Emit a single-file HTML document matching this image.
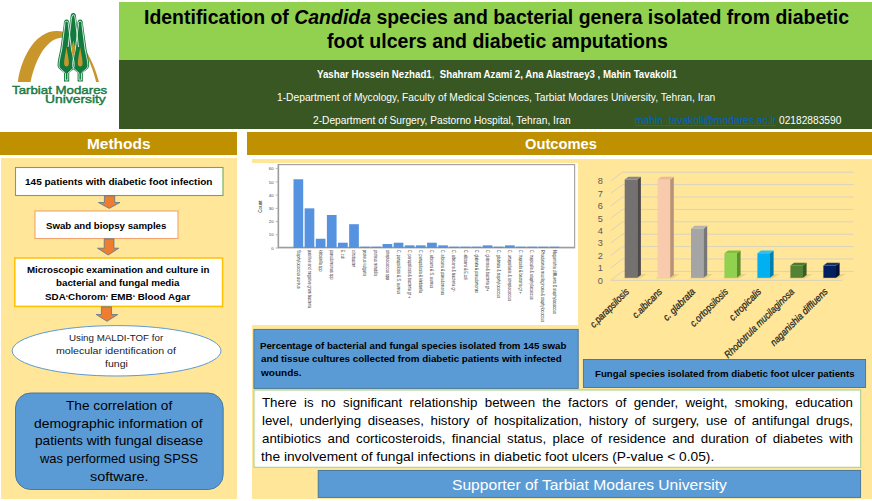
<!DOCTYPE html>
<html><head><meta charset="utf-8">
<style>
*{margin:0;padding:0;box-sizing:border-box}
html,body{width:872px;height:501px;overflow:hidden;background:#fff}
body{position:relative;font-family:"Liberation Sans",sans-serif}
.a{position:absolute}
.tx{position:absolute;white-space:nowrap;transform-origin:0 0}
svg{position:absolute;left:0;top:0}
</style></head><body>
<div class="a" style="left:119px;top:2px;width:753px;height:58px;background:#92d050"></div>
<div class="a" style="left:119px;top:60px;width:753px;height:69px;background:#385723"></div>
<div class="a" style="left:0;top:132px;width:237px;height:23px;background:#bf9000"></div>
<div class="a" style="left:247px;top:132px;width:625px;height:23px;background:#bf9000"></div>
<div class="a" style="left:1px;top:158px;width:236px;height:340.5px;background:#ffe699"></div>
<div class="a" style="left:252px;top:159px;width:620px;height:339.5px;background:#ffe699"></div>
<svg width="872" height="501" viewBox="0 0 872 501" font-family="Liberation Sans, sans-serif">
<path d="M17.8,82 C20.5,62 33,31 57,31 C77,31 92,55 99,82 L96.2,82 C90.5,58 79,37.8 62,37.8 C47.5,37.8 35.5,58 30.6,82 Z" fill="#c9962b"/>
<path d="M73.3,13.0 C75.2,13.0 76.2,14.6 76.2,18.4 L79.7,43.4 C81.5,51.4 82.3,55.4 82.3,59.0 C82.3,61.9 78.49999999999999,63.9 75.89999999999999,66.2 L75.89999999999999,66 L70.7,66 L70.7,66.2 C68.10000000000001,63.9 64.3,61.9 64.3,59.0 C64.3,55.4 65.1,51.4 66.89999999999999,43.4 L70.39999999999999,18.4 C70.39999999999999,14.6 71.39999999999999,13.0 73.3,13.0 Z" fill="#137a3e"/>
<path d="M66.6,19.6 C68.5,19.6 69.5,21.200000000000003 69.5,25.0 L73.0,50.0 C74.8,58.0 75.6,62.0 75.6,65.6 C75.6,68.5 71.79999999999998,70.5 69.19999999999999,72.80000000000001 L69.19999999999999,81.5 L63.99999999999999,81.5 L63.99999999999999,72.80000000000001 C61.39999999999999,70.5 57.599999999999994,68.5 57.599999999999994,65.6 C57.599999999999994,62.0 58.39999999999999,58.0 60.199999999999996,50.0 L63.699999999999996,25.0 C63.699999999999996,21.200000000000003 64.69999999999999,19.6 66.6,19.6 Z" fill="#137a3e"/>
<path d="M80.2,19.6 C82.10000000000001,19.6 83.10000000000001,21.200000000000003 83.10000000000001,25.0 L86.60000000000001,50.0 C88.4,58.0 89.2,62.0 89.2,65.6 C89.2,68.5 85.39999999999999,70.5 82.8,72.80000000000001 L82.8,81.5 L77.60000000000001,81.5 L77.60000000000001,72.80000000000001 C75.00000000000001,70.5 71.2,68.5 71.2,65.6 C71.2,62.0 72.0,58.0 73.8,50.0 L77.3,25.0 C77.3,21.200000000000003 78.3,19.6 80.2,19.6 Z" fill="#137a3e"/>
<path d="M68.1,47.0 L71.3,19.4 C71.7,17.18 72.1,14.68 73.3,14.68 C74.5,14.68 74.89999999999999,17.18 75.3,19.4 L78.5,47.0" fill="none" stroke="#f2faf4" stroke-width="0.85"/>
<path d="M66.6,21.28 C68.5,21.28 68.38,22.880000000000003 68.38,25.0 L71.6,50.0 C73.39999999999999,58.0 74.19999999999999,62.0 74.19999999999999,65.6 C74.19999999999999,68.5 70.39999999999999,70.5 67.8,73.22000000000001 L67.8,80.1 L65.39999999999999,80.1 L65.39999999999999,73.22000000000001 C62.79999999999999,70.5 58.99999999999999,68.5 58.99999999999999,65.6 C58.99999999999999,62.0 59.79999999999999,58.0 61.599999999999994,50.0 L64.82,25.0 C64.82,22.880000000000003 64.69999999999999,21.28 66.6,21.28 Z" fill="none" stroke="#f2faf4" stroke-width="0.85"/>
<path d="M80.2,21.28 C82.10000000000001,21.28 81.98,22.880000000000003 81.98,25.0 L85.2,50.0 C87.0,58.0 87.8,62.0 87.8,65.6 C87.8,68.5 84.0,70.5 81.4,73.22000000000001 L81.4,80.1 L79.0,80.1 L79.0,73.22000000000001 C76.4,70.5 72.60000000000001,68.5 72.60000000000001,65.6 C72.60000000000001,62.0 73.4,58.0 75.2,50.0 L78.42,25.0 C78.42,22.880000000000003 78.3,21.28 80.2,21.28 Z" fill="none" stroke="#f2faf4" stroke-width="0.85"/>
<path d="M73.4,40.5 C74.6,44 75.2,48 74.9,51 C74.6,54 73.9,56 73.4,58 C72.9,56 72.2,54 71.9,51 C71.6,48 72.2,44 73.4,40.5 Z" fill="#c9962b"/>
<path d="M66.5,47.2 C67.3,53.2 68.9,58.400000000000006 68.9,63.400000000000006 C68.9,65.4 67.7,66.4 66.5,66.4 C65.3,66.4 64.1,65.4 64.1,63.400000000000006 C64.1,58.400000000000006 65.7,53.2 66.5,47.2 Z" fill="#c9962b"/>
<path d="M80.2,47.2 C81.0,53.2 82.60000000000001,58.400000000000006 82.60000000000001,63.400000000000006 C82.60000000000001,65.4 81.4,66.4 80.2,66.4 C79.0,66.4 77.8,65.4 77.8,63.400000000000006 C77.8,58.400000000000006 79.4,53.2 80.2,47.2 Z" fill="#c9962b"/>
<rect x="252" y="163" width="326" height="162" fill="#fff"/>
<rect x="278.4" y="164.6" width="296.2" height="83" fill="none" stroke="#a6a6a6" stroke-width="1.2"/>
<path d="M278.4,164 V247.6 H575" fill="none" stroke="#9c9c9c" stroke-width="1.5"/>
<line x1="275.6" y1="248.00" x2="278.4" y2="248.00" stroke="#aaa" stroke-width="0.8"/>
<text x="273.6" y="249.60" font-size="4.3" text-anchor="end" fill="#444">0</text>
<line x1="275.6" y1="234.78" x2="278.4" y2="234.78" stroke="#aaa" stroke-width="0.8"/>
<text x="273.6" y="236.38" font-size="4.3" text-anchor="end" fill="#444">10</text>
<line x1="275.6" y1="221.57" x2="278.4" y2="221.57" stroke="#aaa" stroke-width="0.8"/>
<text x="273.6" y="223.17" font-size="4.3" text-anchor="end" fill="#444">20</text>
<line x1="275.6" y1="208.35" x2="278.4" y2="208.35" stroke="#aaa" stroke-width="0.8"/>
<text x="273.6" y="209.95" font-size="4.3" text-anchor="end" fill="#444">30</text>
<line x1="275.6" y1="195.13" x2="278.4" y2="195.13" stroke="#aaa" stroke-width="0.8"/>
<text x="273.6" y="196.73" font-size="4.3" text-anchor="end" fill="#444">40</text>
<line x1="275.6" y1="181.91" x2="278.4" y2="181.91" stroke="#aaa" stroke-width="0.8"/>
<text x="273.6" y="183.51" font-size="4.3" text-anchor="end" fill="#444">50</text>
<line x1="275.6" y1="168.70" x2="278.4" y2="168.70" stroke="#aaa" stroke-width="0.8"/>
<text x="273.6" y="170.30" font-size="4.3" text-anchor="end" fill="#444">60</text>
<text transform="translate(262.3,206.6) rotate(-90)" font-size="5.4" text-anchor="middle" fill="#222" textLength="12.3" lengthAdjust="spacingAndGlyphs">Count</text>
<rect x="293.50" y="179.27" width="9.7" height="68.73" fill="#5592e0"/>
<text transform="translate(296.55,250) rotate(90)" font-size="4.6" fill="#333" textLength="38.5" lengthAdjust="spacingAndGlyphs">Staphylococcus aureus</text>
<rect x="304.63" y="208.35" width="9.7" height="39.65" fill="#5592e0"/>
<text transform="translate(307.68,250) rotate(90)" font-size="4.6" fill="#333" textLength="58.0" lengthAdjust="spacingAndGlyphs">positive and negative gram bacteria</text>
<rect x="315.76" y="238.75" width="9.7" height="9.25" fill="#5592e0"/>
<text transform="translate(318.81,250) rotate(90)" font-size="4.6" fill="#333" textLength="21.4" lengthAdjust="spacingAndGlyphs">klebsiella spp</text>
<rect x="326.89" y="214.96" width="9.7" height="33.04" fill="#5592e0"/>
<text transform="translate(329.94,250) rotate(90)" font-size="4.6" fill="#333" textLength="29.5" lengthAdjust="spacingAndGlyphs">pseudomonas spp</text>
<rect x="338.02" y="242.71" width="9.7" height="5.29" fill="#5592e0"/>
<text transform="translate(341.07,250) rotate(90)" font-size="4.6" fill="#333" textLength="9.0" lengthAdjust="spacingAndGlyphs">E. coli</text>
<rect x="349.15" y="224.21" width="9.7" height="23.79" fill="#5592e0"/>
<text transform="translate(352.20,250) rotate(90)" font-size="4.6" fill="#333" textLength="17.0" lengthAdjust="spacingAndGlyphs">citrobacter</text>
<rect x="360.28" y="246.68" width="9.7" height="1.32" fill="#5592e0"/>
<text transform="translate(363.33,250) rotate(90)" font-size="4.6" fill="#333" textLength="26.0" lengthAdjust="spacingAndGlyphs">proteus vulgaris</text>
<rect x="371.41" y="246.68" width="9.7" height="1.32" fill="#5592e0"/>
<text transform="translate(374.46,250) rotate(90)" font-size="4.6" fill="#333" textLength="26.0" lengthAdjust="spacingAndGlyphs">proteus mirabilis</text>
<rect x="382.54" y="244.03" width="9.7" height="3.97" fill="#5592e0"/>
<text transform="translate(385.59,250) rotate(90)" font-size="4.6" fill="#333" textLength="30.0" lengthAdjust="spacingAndGlyphs">streptococcus spp</text>
<rect x="393.67" y="242.71" width="9.7" height="5.29" fill="#5592e0"/>
<text transform="translate(396.72,250) rotate(90)" font-size="4.6" fill="#333" textLength="44.0" lengthAdjust="spacingAndGlyphs">C. parapsilosis &amp; S. aureus</text>
<rect x="404.80" y="245.36" width="9.7" height="2.64" fill="#5592e0"/>
<text transform="translate(407.85,250) rotate(90)" font-size="4.6" fill="#333" textLength="48.0" lengthAdjust="spacingAndGlyphs">C. parapsilosis &amp; bacteria gr +</text>
<rect x="415.93" y="245.36" width="9.7" height="2.64" fill="#5592e0"/>
<text transform="translate(418.98,250) rotate(90)" font-size="4.6" fill="#333" textLength="43.0" lengthAdjust="spacingAndGlyphs">C. parapsilosis &amp; klebsiella</text>
<rect x="427.06" y="242.71" width="9.7" height="5.29" fill="#5592e0"/>
<text transform="translate(430.11,250) rotate(90)" font-size="4.6" fill="#333" textLength="38.0" lengthAdjust="spacingAndGlyphs">C. albicans &amp; S. aureus</text>
<rect x="438.19" y="245.36" width="9.7" height="2.64" fill="#5592e0"/>
<text transform="translate(441.24,250) rotate(90)" font-size="4.6" fill="#333" textLength="45.0" lengthAdjust="spacingAndGlyphs">C. albicans &amp; pseudomonas</text>
<rect x="449.32" y="246.68" width="9.7" height="1.32" fill="#5592e0"/>
<text transform="translate(452.37,250) rotate(90)" font-size="4.6" fill="#333" textLength="42.0" lengthAdjust="spacingAndGlyphs">C. albicans &amp; bacteria gr-</text>
<rect x="460.45" y="246.68" width="9.7" height="1.32" fill="#5592e0"/>
<text transform="translate(463.50,250) rotate(90)" font-size="4.6" fill="#333" textLength="30.0" lengthAdjust="spacingAndGlyphs">C. albicans &amp; E.coli</text>
<rect x="471.58" y="246.68" width="9.7" height="1.32" fill="#5592e0"/>
<text transform="translate(474.63,250) rotate(90)" font-size="4.6" fill="#333" textLength="43.0" lengthAdjust="spacingAndGlyphs">C. glabrata &amp; pseudomonas</text>
<rect x="482.71" y="245.36" width="9.7" height="2.64" fill="#5592e0"/>
<text transform="translate(485.76,250) rotate(90)" font-size="4.6" fill="#333" textLength="41.0" lengthAdjust="spacingAndGlyphs">C. glabrata &amp; bacteria gr+</text>
<rect x="493.84" y="246.68" width="9.7" height="1.32" fill="#5592e0"/>
<text transform="translate(496.89,250) rotate(90)" font-size="4.6" fill="#333" textLength="48.0" lengthAdjust="spacingAndGlyphs">C. glabrata &amp; staphylococcus</text>
<rect x="504.97" y="245.36" width="9.7" height="2.64" fill="#5592e0"/>
<text transform="translate(508.02,250) rotate(90)" font-size="4.6" fill="#333" textLength="51.0" lengthAdjust="spacingAndGlyphs">C. ortopsilosis &amp; streptococcus</text>
<rect x="516.10" y="246.68" width="9.7" height="1.32" fill="#5592e0"/>
<text transform="translate(519.15,250) rotate(90)" font-size="4.6" fill="#333" textLength="44.0" lengthAdjust="spacingAndGlyphs">C. tropicalis &amp; bacteria gr +</text>
<rect x="527.23" y="246.68" width="9.7" height="1.32" fill="#5592e0"/>
<text transform="translate(530.28,250) rotate(90)" font-size="4.6" fill="#333" textLength="49.6" lengthAdjust="spacingAndGlyphs">C. tropicalis &amp; staphylococcus</text>
<rect x="538.36" y="246.68" width="9.7" height="1.32" fill="#5592e0"/>
<text transform="translate(541.41,250) rotate(90)" font-size="4.6" fill="#333" textLength="72.0" lengthAdjust="spacingAndGlyphs">Rhodotorula mucilaginosa &amp; staphylococcus</text>
<rect x="549.49" y="246.68" width="9.7" height="1.32" fill="#5592e0"/>
<text transform="translate(552.54,250) rotate(90)" font-size="4.6" fill="#333" textLength="64.0" lengthAdjust="spacingAndGlyphs">Naganishia diffluens &amp; staphylococcus</text>
<path d="M610.9,280.20 L622.5,271.40 H853.6" fill="none" stroke="#d8d3c0" stroke-width="1"/>
<text x="600.2" y="283.60" font-size="9.2" text-anchor="middle" fill="#595959">0</text>
<path d="M610.9,267.80 L622.5,259.00 H853.6" fill="none" stroke="#d8d3c0" stroke-width="1"/>
<text x="600.2" y="271.20" font-size="9.2" text-anchor="middle" fill="#595959">1</text>
<path d="M610.9,255.40 L622.5,246.60 H853.6" fill="none" stroke="#d8d3c0" stroke-width="1"/>
<text x="600.2" y="258.80" font-size="9.2" text-anchor="middle" fill="#595959">2</text>
<path d="M610.9,243.00 L622.5,234.20 H853.6" fill="none" stroke="#d8d3c0" stroke-width="1"/>
<text x="600.2" y="246.40" font-size="9.2" text-anchor="middle" fill="#595959">3</text>
<path d="M610.9,230.60 L622.5,221.80 H853.6" fill="none" stroke="#d8d3c0" stroke-width="1"/>
<text x="600.2" y="234.00" font-size="9.2" text-anchor="middle" fill="#595959">4</text>
<path d="M610.9,218.20 L622.5,209.40 H853.6" fill="none" stroke="#d8d3c0" stroke-width="1"/>
<text x="600.2" y="221.60" font-size="9.2" text-anchor="middle" fill="#595959">5</text>
<path d="M610.9,205.80 L622.5,197.00 H853.6" fill="none" stroke="#d8d3c0" stroke-width="1"/>
<text x="600.2" y="209.20" font-size="9.2" text-anchor="middle" fill="#595959">6</text>
<path d="M610.9,193.40 L622.5,184.60 H853.6" fill="none" stroke="#d8d3c0" stroke-width="1"/>
<text x="600.2" y="196.80" font-size="9.2" text-anchor="middle" fill="#595959">7</text>
<path d="M610.9,181.00 L622.5,172.20 H853.6" fill="none" stroke="#d8d3c0" stroke-width="1"/>
<text x="600.2" y="184.40" font-size="9.2" text-anchor="middle" fill="#595959">8</text>
<path d="M610.9,280.3 H842.4" fill="none" stroke="#d8d3c0" stroke-width="1"/>
<path d="M622.70,278.40 L639.30,278.40 L646.90,274.00 L630.30,274.00 Z" fill="#e2c77a" opacity="0.7"/>
<rect x="624.70" y="179.48" width="12.6" height="98.32" fill="#767171"/>
<path d="M637.30,179.48 L640.90,176.68 L640.90,275.00 L637.30,277.80 Z" fill="#4e4a4a"/>
<path d="M624.70,179.48 L628.30,176.68 L640.90,176.68 L637.30,179.48 Z" fill="#8c8787"/>
<path d="M655.60,278.40 L672.20,278.40 L679.80,274.00 L663.20,274.00 Z" fill="#e2c77a" opacity="0.7"/>
<rect x="657.60" y="179.48" width="12.6" height="98.32" fill="#f8cbad"/>
<path d="M670.20,179.48 L673.80,176.68 L673.80,275.00 L670.20,277.80 Z" fill="#b8927a"/>
<path d="M657.60,179.48 L661.20,176.68 L673.80,176.68 L670.20,179.48 Z" fill="#e9b99a"/>
<path d="M689.00,278.40 L705.60,278.40 L713.20,274.00 L696.60,274.00 Z" fill="#e2c77a" opacity="0.7"/>
<rect x="691.00" y="228.64" width="12.6" height="49.16" fill="#a5a5a5"/>
<path d="M703.60,228.64 L707.20,225.84 L707.20,275.00 L703.60,277.80 Z" fill="#777"/>
<path d="M691.00,228.64 L694.60,225.84 L707.20,225.84 L703.60,228.64 Z" fill="#b5b5b5"/>
<path d="M722.40,278.40 L739.00,278.40 L746.60,274.00 L730.00,274.00 Z" fill="#e2c77a" opacity="0.7"/>
<rect x="724.40" y="253.22" width="12.6" height="24.58" fill="#92d050"/>
<path d="M737.00,253.22 L740.60,250.42 L740.60,275.00 L737.00,277.80 Z" fill="#5f8f30"/>
<path d="M724.40,253.22 L728.00,250.42 L740.60,250.42 L737.00,253.22 Z" fill="#7fbf40"/>
<path d="M755.40,278.40 L772.00,278.40 L779.60,274.00 L763.00,274.00 Z" fill="#e2c77a" opacity="0.7"/>
<rect x="757.40" y="253.22" width="12.6" height="24.58" fill="#00b0f0"/>
<path d="M770.00,253.22 L773.60,250.42 L773.60,275.00 L770.00,277.80 Z" fill="#0080b0"/>
<path d="M757.40,253.22 L761.00,250.42 L773.60,250.42 L770.00,253.22 Z" fill="#30bff0"/>
<path d="M788.40,278.40 L805.00,278.40 L812.60,274.00 L796.00,274.00 Z" fill="#e2c77a" opacity="0.7"/>
<rect x="790.40" y="265.51" width="12.6" height="12.29" fill="#548235"/>
<path d="M803.00,265.51 L806.60,262.71 L806.60,275.00 L803.00,277.80 Z" fill="#3a5c24"/>
<path d="M790.40,265.51 L794.00,262.71 L806.60,262.71 L803.00,265.51 Z" fill="#4a7a2c"/>
<path d="M821.40,278.40 L838.00,278.40 L845.60,274.00 L829.00,274.00 Z" fill="#e2c77a" opacity="0.7"/>
<rect x="823.40" y="265.51" width="12.6" height="12.29" fill="#002060"/>
<path d="M836.00,265.51 L839.60,262.71 L839.60,275.00 L836.00,277.80 Z" fill="#00123a"/>
<path d="M823.40,265.51 L827.00,262.71 L839.60,262.71 L836.00,265.51 Z" fill="#1a3270"/>
<text id="fl0" transform="translate(629.80,292.30) rotate(-45)" font-size="10" font-style="italic" text-anchor="end" fill="#1e1e1e" stroke="#1e1e1e" stroke-width="0.25" textLength="50.7" lengthAdjust="spacingAndGlyphs">c.parapsilosis</text>
<text id="fl1" transform="translate(662.80,292.30) rotate(-45)" font-size="10" font-style="italic" text-anchor="end" fill="#1e1e1e" stroke="#1e1e1e" stroke-width="0.25" textLength="37.5" lengthAdjust="spacingAndGlyphs">c.albicans</text>
<text id="fl2" transform="translate(695.80,292.30) rotate(-45)" font-size="10" font-style="italic" text-anchor="end" fill="#1e1e1e" stroke="#1e1e1e" stroke-width="0.25" textLength="40.8" lengthAdjust="spacingAndGlyphs">c. glabrata</text>
<text id="fl3" transform="translate(728.80,292.30) rotate(-45)" font-size="10" font-style="italic" text-anchor="end" fill="#1e1e1e" stroke="#1e1e1e" stroke-width="0.25" textLength="49.3" lengthAdjust="spacingAndGlyphs">c.ortopsilosis</text>
<text id="fl4" transform="translate(761.80,292.30) rotate(-45)" font-size="10" font-style="italic" text-anchor="end" fill="#1e1e1e" stroke="#1e1e1e" stroke-width="0.25" textLength="40.8" lengthAdjust="spacingAndGlyphs">c.tropicalis</text>
<text id="fl5" transform="translate(794.80,292.30) rotate(-45)" font-size="10" font-style="italic" text-anchor="end" fill="#1e1e1e" stroke="#1e1e1e" stroke-width="0.25" textLength="94.0" lengthAdjust="spacingAndGlyphs">Rhodotrula mucilaginosa</text>
<text id="fl6" transform="translate(828.40,292.30) rotate(-45)" font-size="10" font-style="italic" text-anchor="end" fill="#1e1e1e" stroke="#1e1e1e" stroke-width="0.25" textLength="76.6" lengthAdjust="spacingAndGlyphs">naganishia diffluens</text>
<!-- methods flow -->
<rect x="15.5" y="167.5" width="207.5" height="28" fill="#fff" stroke="#70ad47" stroke-width="1.1"/>
<rect x="35" y="211" width="143" height="27.5" fill="#fff" stroke="#f2a46c" stroke-width="1.1"/>
<rect x="14.8" y="258" width="207.8" height="48.4" fill="#fff" stroke="#ffc000" stroke-width="1.5"/>
<ellipse cx="116.6" cy="350.8" rx="104.4" ry="25.2" fill="#fff" stroke="#5b9bd5" stroke-width="1"/>
<rect x="15.5" y="393" width="207.7" height="96.5" rx="15" ry="15" fill="#5b9bd5" stroke="#41719c" stroke-width="0.9"/>
<path d="M104.4,195.8 H114.8 V202.5 H120 L109.2,208.4 L98.4,202.5 H104.4 Z" fill="#ed7d31" stroke="#41719c" stroke-width="0.7"/>
<path d="M104.2,238.8 H114 V248.2 H118.8 L108.2,255 L97.5,248.2 H104.2 Z" fill="#ed7d31" stroke="#41719c" stroke-width="0.7"/>
<path d="M101.4,306.8 H111.5 V314.5 H117.8 L107,321.3 L96.2,314.5 H101.4 Z" fill="#ed7d31" stroke="#41719c" stroke-width="0.7"/>
<!-- outcomes boxes -->
<rect x="253.9" y="329.4" width="324.3" height="59" fill="#5b9bd5" stroke="#41719c" stroke-width="0.9"/>
<rect x="583.4" y="359.5" width="282.2" height="28" fill="#5b9bd5" stroke="#41719c" stroke-width="0.9"/>
<rect x="254" y="390" width="606.7" height="77.3" fill="#fff" stroke="#a9d18e" stroke-width="1.1"/>
<rect x="318.2" y="470.4" width="542.4" height="27" fill="#5b9bd5" stroke="#41719c" stroke-width="0.9"/>
</svg>
<div class="tx" id="t1" style="left:144.41px;top:6.00px;font-size:19.8px;line-height:22.117px;font-weight:bold;color:#000;transform:scaleX(0.9836);">Identification of <i>Candida</i> species and bacterial genera isolated from diabetic</div>
<div class="tx" id="t2" style="left:326.60px;top:30.00px;font-size:19.8px;line-height:22.117px;font-weight:bold;color:#000;transform:scaleX(0.9875);">foot ulcers and diabetic amputations</div>
<div class="tx" id="au" style="left:317.00px;top:69.00px;font-size:10.0px;line-height:11.170px;font-weight:bold;color:#fff;transform:scaleX(0.9690);">Yashar Hossein Nezhad1<span style="color:#7cc242">,</span>&nbsp; Shahram Azami 2, Ana Alastraey3 , Mahin Tavakoli1</div>
<div class="tx" id="a1" style="left:277.38px;top:92.00px;font-size:10.2px;line-height:11.393px;font-weight:normal;color:#fff;transform:scaleX(1.0058);">1-Department of Mycology, Faculty of Medical Sciences, Tarbiat Modares University, Tehran, Iran</div>
<div class="tx" id="a2" style="left:313.00px;top:115.00px;font-size:10.2px;line-height:11.393px;font-weight:normal;color:#fff;transform:scaleX(1.0016);">2-Department of Surgery, Pastorno Hospital, Tehran, Iran</div>
<div class="tx" id="em" style="left:634.60px;top:115.00px;font-size:10.2px;line-height:11.393px;font-weight:normal;color:#0563C1;transform:scaleX(1.0086);"><u>mahin_tavakoli@modares.ac.ir</u></div>
<div class="tx" id="ph" style="left:779.00px;top:115.00px;font-size:10.2px;line-height:11.393px;font-weight:normal;color:#fff;transform:scaleX(1.0000);">02182883590</div>
<div class="tx" id="mh" style="left:87.00px;top:135.00px;font-size:15.5px;line-height:17.314px;font-weight:bold;color:#fff;transform:scaleX(0.9968);">Methods</div>
<div class="tx" id="oc" style="left:525.01px;top:136.00px;font-size:15.0px;line-height:16.755px;font-weight:bold;color:#fff;transform:scaleX(0.9792);">Outcomes</div>
<div class="tx" id="b1" style="left:24.93px;top:177.00px;font-size:9.4px;line-height:10.500px;font-weight:bold;color:#000;transform:scaleX(1.0678);">145 patients with diabetic foot infection</div>
<div class="tx" id="b2" style="left:46.17px;top:221.00px;font-size:9.4px;line-height:10.500px;font-weight:bold;color:#000;transform:scaleX(1.0313);">Swab and biopsy samples</div>
<div class="tx" id="b3a" style="left:26.59px;top:265.00px;font-size:9.4px;line-height:10.500px;font-weight:bold;color:#000;transform:scaleX(1.0358);">Microscopic examination and culture in</div>
<div class="tx" id="b3b" style="left:56.18px;top:278.00px;font-size:9.4px;line-height:10.500px;font-weight:bold;color:#000;transform:scaleX(1.0441);">bacterial and fungal media</div>
<div class="tx" id="b3c" style="left:44.74px;top:292.00px;font-size:9.4px;line-height:10.500px;font-weight:bold;color:#000;transform:scaleX(1.0478);">SDA<span style="position:relative;top:0.3px;font-size:8px">‘</span>Chorom<span style="position:relative;top:0.3px;font-size:8px">‘</span> EMB<span style="position:relative;top:0.3px;font-size:8px">‘</span> Blood Agar</div>
<div class="tx" id="e1" style="left:68.57px;top:333.00px;font-size:9.4px;line-height:10.500px;font-weight:normal;color:#1a1a2a;transform:scaleX(1.0411);">Using MALDI-TOF for</div>
<div class="tx" id="e2" style="left:56.14px;top:346.00px;font-size:9.4px;line-height:10.500px;font-weight:normal;color:#1a1a2a;transform:scaleX(1.1333);">molecular identification of</div>
<div class="tx" id="e3" style="left:105.21px;top:359.00px;font-size:9.4px;line-height:10.500px;font-weight:normal;color:#1a1a2a;transform:scaleX(1.1250);">fungi</div>
<div class="tx" id="r1" style="left:65.59px;top:399.00px;font-size:13.2px;line-height:14.744px;font-weight:normal;color:#000;transform:scaleX(1.0350);">The correlation of</div>
<div class="tx" id="r2" style="left:33.97px;top:417.00px;font-size:13.2px;line-height:14.744px;font-weight:normal;color:#000;transform:scaleX(1.0556);">demographic information of</div>
<div class="tx" id="r3" style="left:34.77px;top:434.00px;font-size:13.2px;line-height:14.744px;font-weight:normal;color:#000;transform:scaleX(1.0373);">patients with fungal disease</div>
<div class="tx" id="r4" style="left:40.38px;top:452.00px;font-size:13.2px;line-height:14.744px;font-weight:normal;color:#000;transform:scaleX(0.9801);">was performed using SPSS</div>
<div class="tx" id="r5" style="left:89.91px;top:470.00px;font-size:13.2px;line-height:14.744px;font-weight:normal;color:#000;transform:scaleX(1.0941);">software.</div>
<div class="tx" id="p1" style="left:260.20px;top:341.00px;font-size:9.8px;line-height:10.947px;font-weight:bold;color:#000;transform:scaleX(0.9906);">Percentage of bacterial and fungal species isolated from 145 swab</div>
<div class="tx" id="p2" style="left:261.19px;top:354.00px;font-size:9.8px;line-height:10.947px;font-weight:bold;color:#000;transform:scaleX(0.9970);">and tissue cultures collected from diabetic patients with infected</div>
<div class="tx" id="p3" style="left:261.20px;top:368.00px;font-size:9.8px;line-height:10.947px;font-weight:bold;color:#000;transform:scaleX(1.0231);">wounds.</div>
<div class="tx" id="fc" style="left:594.60px;top:369.00px;font-size:9.8px;line-height:10.947px;font-weight:bold;color:#000;transform:scaleX(0.9893);">Fungal species isolated from diabetic foot ulcer patients</div>
<div class="tx" id="m1" style="left:262.00px;top:396.00px;font-size:13.3px;line-height:14.856px;font-weight:normal;color:#000;width:591.00px;text-align:justify;text-align-last:justify;">There is no significant relationship between the factors of gender, weight, smoking, education</div>
<div class="tx" id="m2" style="left:262.00px;top:414.00px;font-size:13.3px;line-height:14.856px;font-weight:normal;color:#000;width:591.00px;text-align:justify;text-align-last:justify;">level, underlying diseases, history of hospitalization, history of surgery, use of antifungal drugs,</div>
<div class="tx" id="m3" style="left:262.00px;top:432.00px;font-size:13.3px;line-height:14.856px;font-weight:normal;color:#000;width:591.00px;text-align:justify;text-align-last:justify;">antibiotics and corticosteroids, financial status, place of residence and duration of diabetes with</div>
<div class="tx" id="m4" style="left:260.57px;top:450.00px;font-size:13.3px;line-height:14.856px;font-weight:normal;color:#000;transform:scaleX(1.0332);">the involvement of fungal infections in diabetic foot ulcers (P-value &lt; 0.05).</div>
<div class="tx" id="sp" style="left:451.97px;top:476.00px;font-size:15.2px;line-height:16.978px;font-weight:normal;color:#fff;transform:scaleX(1.0282);">Supporter of Tarbiat Modares University</div>
<div class="tx" id="lg1" style="left:11.77px;top:84.00px;font-size:11.6px;line-height:12.957px;font-weight:normal;color:#1a7a44;-webkit-text-stroke:0.45px #1a7a44;transform:scaleX(1.1446);">Tarbiat Modares</div>
<div class="tx" id="lg2" style="left:45.11px;top:93.00px;font-size:11.6px;line-height:12.957px;font-weight:normal;color:#1a7a44;-webkit-text-stroke:0.45px #1a7a44;transform:scaleX(1.1941);">University</div>
</body></html>
